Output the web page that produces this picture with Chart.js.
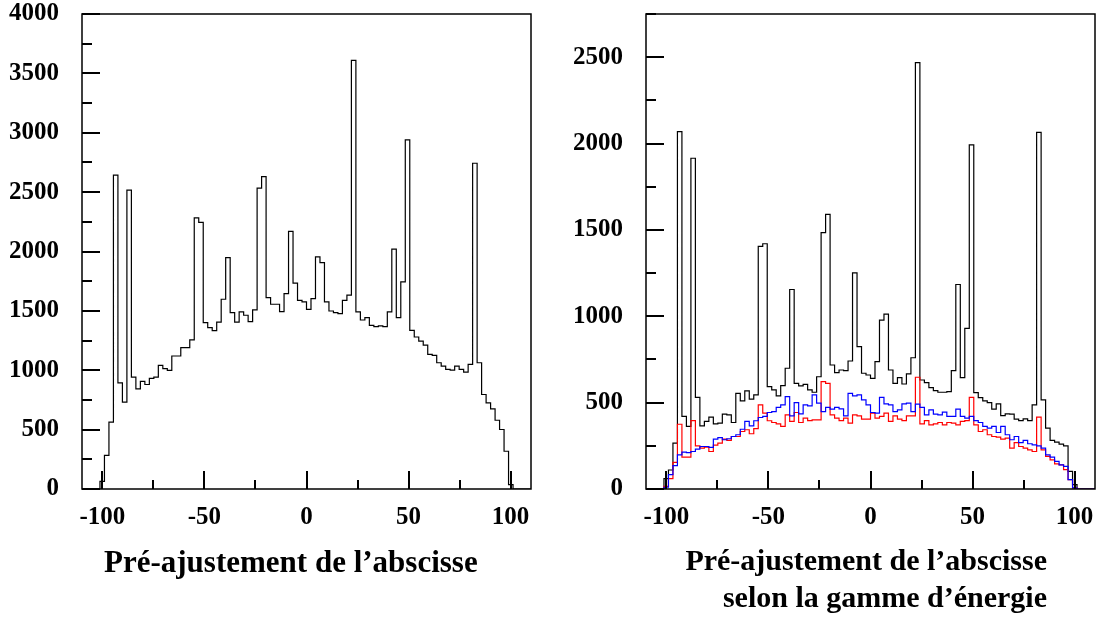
<!DOCTYPE html>
<html>
<head>
<meta charset="utf-8">
<script src="https://cdn.jsdelivr.net/npm/chart.js@4.4.1/dist/chart.umd.min.js"></script>
<style>
  body { margin: 0; background: #fff; }
  #wrap { position: relative; width: 1098px; height: 617px; overflow: hidden; }
  canvas { position: absolute; top: 0; }
  .caption { position: absolute; font-family: "Liberation Serif", "Times New Roman", serif; font-weight: bold; color: #000; white-space: nowrap; }
</style>
</head>
<body>
<div id="wrap">
  <canvas id="leftChart" width="549" height="617" style="left:0"></canvas>
  <canvas id="rightChart" width="549" height="617" style="left:549px"></canvas>
  <div class="caption" style="left:104px; top:546px; font-size:31px; line-height:31px;">Pré-ajustement de l’abscisse</div>
  <div class="caption" style="right:51px; top:545px; font-size:30px; line-height:30px; text-align:right;">Pré-ajustement de l’abscisse</div>
  <div class="caption" style="right:51px; top:582px; font-size:30px; line-height:30px; text-align:right;">selon la gamme d’énergie</div>
</div>
<script>
// histogramme : 100 canaux de -110 à 110
const binLow = -110;
const binWidth = 2.2;

// gauche : pré-ajustement de l'abscisse
const leftCounts = [
  0, 0, 0, 0, 65, 284, 563, 2644, 894, 731,
  2517, 942, 844, 906, 880, 931, 942, 1041, 1013, 999,
  1120, 1120, 1190, 1190, 1255, 2284, 2245, 1401, 1359, 1333,
  1406, 1598, 1949, 1485, 1406, 1491, 1463, 1409, 1508, 2534,
  2630, 1612, 1556, 1556, 1494, 1646, 2169, 1733, 1589, 1575,
  1513, 1603, 1955, 1907, 1575, 1499, 1485, 1477, 1589, 1632,
  3609, 1491, 1423, 1443, 1378, 1367, 1373, 1367, 1491, 2020,
  1443, 1744, 2940, 1336, 1280, 1246, 1212, 1134, 1125, 1063,
  1035, 1007, 1001, 1035, 1007, 985, 1049, 2743, 1063, 796,
  726, 675, 579, 501, 318, 37, 0, 0, 0, 0
];

// droite : total (noir) et par gamme d'énergie (rouge, bleu)
const rightTotal = [
  0, 0, 0, 0, 60, 110, 266, 2069, 420, 362,
  1915, 531, 366, 391, 416, 377, 381, 433, 429, 385,
  554, 510, 568, 520, 545, 1405, 1420, 593, 574, 539,
  599, 699, 1155, 612, 597, 606, 574, 560, 650, 1484,
  1590, 718, 674, 689, 685, 741, 1251, 824, 670, 660,
  641, 737, 978, 1012, 689, 612, 645, 608, 666, 760,
  2469, 631, 616, 587, 570, 560, 560, 564, 685, 1184,
  645, 930, 1992, 558, 529, 510, 500, 462, 493, 425,
  435, 433, 404, 396, 406, 396, 487, 2065, 516, 352,
  281, 271, 260, 250, 102, 25, 0, 0, 0, 0
];
const rightRed = [
  0, 0, 0, 0, 15, 60, 154, 375, 185, 185,
  396, 250, 237, 242, 217, 254, 266, 289, 281, 304,
  304, 333, 343, 320, 350, 487, 439, 395, 385, 377,
  362, 429, 391, 443, 385, 410, 396, 400, 400, 622,
  612, 429, 410, 396, 410, 381, 429, 423, 404, 404,
  439, 410, 420, 439, 391, 423, 404, 396, 423, 423,
  647, 377, 396, 371, 377, 385, 371, 385, 381, 371,
  391, 396, 531, 371, 333, 343, 314, 304, 300, 289,
  294, 237, 269, 246, 237, 227, 217, 416, 227, 189,
  169, 146, 140, 112, 54, 6, 0, 0, 0, 0
];
const rightBlue = [
  0, 0, 0, 0, 10, 83, 135, 198, 214, 211,
  217, 231, 246, 246, 241, 289, 298, 285, 291, 304,
  314, 346, 391, 366, 395, 414, 420, 443, 448, 473,
  487, 535, 423, 500, 435, 487, 481, 545, 497, 448,
  473, 462, 473, 464, 423, 554, 539, 545, 516, 487,
  443, 439, 531, 493, 487, 448, 458, 493, 497, 448,
  491, 473, 429, 458, 433, 429, 445, 420, 420, 462,
  420, 410, 420, 396, 385, 362, 352, 362, 327, 362,
  314, 285, 304, 269, 281, 262, 256, 250, 237, 198,
  185, 160, 140, 131, 54, 6, 0, 0, 0, 0
];

const xMin = -110, xMax = 110;
const leftMax = 4000;
const rightMax = 2750;

// points aux bords gauches des canaux + point de fermeture
function toSteps(counts) {
  const pts = counts.map((c, i) => ({ x: binLow + i * binWidth, y: c }));
  pts.push({ x: binLow + counts.length * binWidth, y: counts[counts.length - 1] });
  return pts;
}

function histo(counts, color) {
  return {
    data: toSteps(counts),
    borderColor: color,
    borderWidth: 1.2,
    pointRadius: 0,
    fill: false,
    stepped: 'before',
    tension: 0
  };
}

// cadre et graduations à l'intérieur, style ROOT
const rootAxes = {
  id: 'rootAxes',
  afterDatasetsDraw(chart) {
    const ctx = chart.ctx;
    const a = chart.chartArea;
    const x = chart.scales.x, y = chart.scales.y;
    ctx.save();
    ctx.strokeStyle = '#000';
    ctx.lineWidth = 2;
    x.ticks.forEach(t => {
      if (Math.abs(t.value % 25) > 1e-6) return;
      const px = Math.round(x.getPixelForValue(t.value));
      const len = Math.abs(t.value % 50) < 1e-6 ? 18 : 9;
      ctx.beginPath();
      ctx.moveTo(px, a.bottom);
      ctx.lineTo(px, a.bottom - len);
      ctx.stroke();
    });
    y.ticks.forEach(t => {
      if (Math.abs(t.value % 250) > 1e-6) return;
      const py = Math.round(y.getPixelForValue(t.value));
      const len = Math.abs(t.value % 500) < 1e-6 ? 18 : 10;
      ctx.beginPath();
      ctx.moveTo(a.left, py);
      ctx.lineTo(a.left + len, py);
      ctx.stroke();
    });
    ctx.lineWidth = 1.5;
    ctx.strokeRect(a.left, a.top, a.right - a.left, a.bottom - a.top);
    ctx.restore();
  }
};

const tickFont = { family: '"Liberation Serif", "Times New Roman", serif', weight: 'bold', size: 25, lineHeight: 1 };

function makeOptions(yMax, yWidth, padRight) {
  return {
    responsive: false,
    animation: false,
    layout: { padding: { left: 0, right: padRight, top: 14, bottom: 0 } },
    plugins: { legend: { display: false }, tooltip: { enabled: false } },
    scales: {
      x: {
        type: 'linear',
        min: xMin,
        max: xMax,
        grid: { display: false, drawTicks: false },
        border: { display: false },
        ticks: {
          stepSize: 25,
          includeBounds: false,
          autoSkip: false,
          maxRotation: 0,
          padding: 16,
          color: '#000',
          font: tickFont,
          callback: v => (v % 50 === 0 ? String(v) : '')
        },
        afterFit: s => {
          s.height = 128;
          s.paddingLeft = 0;
          s.paddingRight = 0;
        }
      },
      y: {
        min: 0,
        max: yMax,
        grid: { display: false, drawTicks: false },
        border: { display: false },
        ticks: {
          stepSize: 250,
          includeBounds: false,
          autoSkip: false,
          padding: 23,
          color: '#000',
          font: tickFont,
          callback: v => (v % 500 === 0 ? String(v) : '')
        },
        afterFit: s => {
          s.width = yWidth;
          s.paddingTop = 0;
          s.paddingBottom = 0;
        }
      }
    }
  };
}

new Chart(document.getElementById('leftChart').getContext('2d'), {
  type: 'line',
  data: { datasets: [histo(leftCounts, '#000')] },
  options: makeOptions(leftMax, 82, 18),
  plugins: [rootAxes]
});

new Chart(document.getElementById('rightChart').getContext('2d'), {
  type: 'line',
  data: {
    datasets: [
      histo(rightBlue, '#0000ff'),
      histo(rightRed, '#ff0000'),
      histo(rightTotal, '#000')
    ]
  },
  options: makeOptions(rightMax, 97, 3),
  plugins: [rootAxes]
});
</script>
</body>
</html>
